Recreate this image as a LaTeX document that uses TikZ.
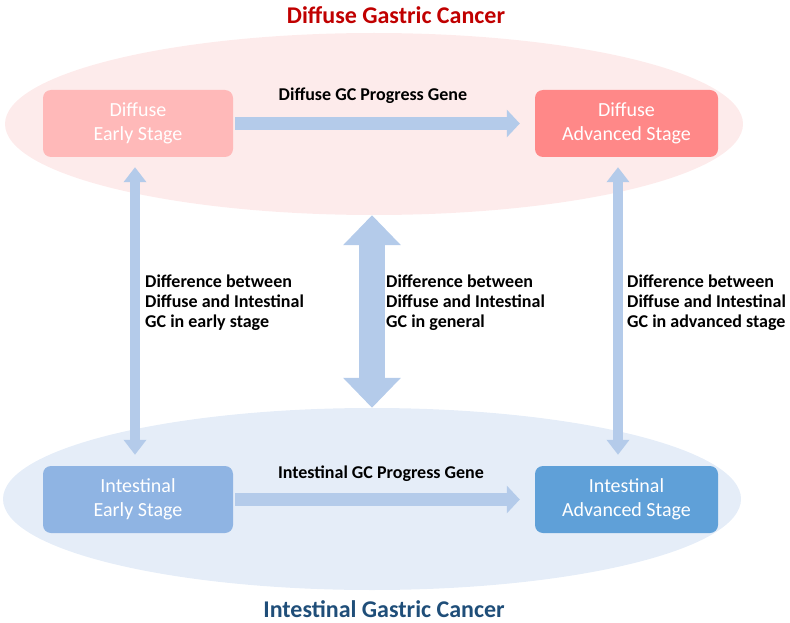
\documentclass[tikz,border=0pt]{standalone}
\usepackage{fontspec}
\setmainfont{Carlito}
\usetikzlibrary{arrows.meta,shapes.geometric}
\definecolor{ellpink}{HTML}{FDEBEB}
\definecolor{ellblue}{HTML}{E5EDF8}
\definecolor{boxpinkA}{HTML}{FFB9B9}
\definecolor{boxpinkB}{HTML}{FF8888}
\definecolor{boxblueA}{HTML}{8FB4E3}
\definecolor{boxblueB}{HTML}{5FA0D8}
\definecolor{arrblue}{HTML}{B4CBEA}
\definecolor{titlered}{HTML}{C00000}
\definecolor{titleblue}{HTML}{1F4E79}
\tikzset{
  stagebox/.style={rounded corners=8pt, minimum width=190pt, minimum height=67pt, inner sep=0pt,
    text=white, font=\fontsize{20}{24}\selectfont, align=center},
  bgell/.style={ellipse, minimum width=738pt, minimum height=182pt, inner sep=0pt},
  harrow/.style={draw=arrblue, line width=13pt, -{Triangle[width=27pt,length=13pt]}},
  varrow/.style={draw=arrblue, line width=10pt, {Triangle[width=22pt,length=15pt]}-{Triangle[width=22pt,length=15pt]}},
  bigarrow/.style={draw=arrblue, line width=26pt, {Triangle[width=56pt,length=30pt]}-{Triangle[width=56pt,length=30pt]}},
  lbl/.style={font=\bfseries\fontsize{18}{20}\selectfont, align=left, inner sep=0pt, anchor=west},
  hlbl/.style={font=\bfseries\fontsize{18}{20}\selectfont, inner sep=0pt},
  ttl/.style={font=\bfseries\fontsize{24}{26}\selectfont, inner sep=0pt}
}
\begin{document}
\begin{tikzpicture}[x=1pt,y=-1pt]
\useasboundingbox (0,0) rectangle (790,623);
\node[bgell, fill=ellpink] (topell) at (374,124) {};
\node[bgell, fill=ellblue] (botell) at (372,499) {};
\node[ttl, text=titlered] (ttop) at (396,15) {Diffuse Gastric Cancer};
\node[ttl, text=titleblue] (tbot) at (384,609) {Intestinal Gastric Cancer};
\node[stagebox, fill=boxpinkA] (de) at (138,123.5) {Diffuse\\Early Stage};
\node[stagebox, fill=boxpinkB, minimum width=183pt] (da) at (626.5,123.5) {Diffuse\\Advanced Stage};
\node[stagebox, fill=boxblueA] (ie) at (138,499.5) {Intestinal\\Early Stage};
\node[stagebox, fill=boxblueB, minimum width=183pt] (ia) at (626.5,499.5) {Intestinal\\Advanced Stage};
\draw[harrow, shorten <=2pt, shorten >=15pt] (de.east) -- (da.west);
\draw[harrow, shorten <=2pt, shorten >=15pt] (ie.east) -- (ia.west);
\draw[varrow, shorten <=10pt, shorten >=11pt] (de.south -| 135,0) -- (ie.north -| 135,0);
\draw[varrow, shorten <=10pt, shorten >=11pt] (da.south -| 618,0) -- (ia.north -| 618,0);
\draw[bigarrow] (topell.south -| 372,0) -- (botell.north -| 372,0);
\node[hlbl] (ltop) at (373,96) {Diffuse GC Progress Gene};
\node[hlbl] (lbot) at (381,474) {Intestinal GC Progress Gene};
\node[lbl] (l1) at (145,303) {Difference between\\Diffuse and Intestinal\\GC in early stage};
\node[lbl] (l2) at (386,303) {Difference between\\Diffuse and Intestinal\\GC in general};
\node[lbl] (l3) at (627,303) {Difference between\\Diffuse and Intestinal\\GC in advanced stage};
\end{tikzpicture}
\end{document}
